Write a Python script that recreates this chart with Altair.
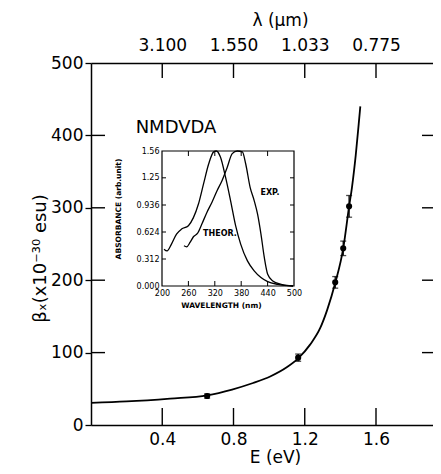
import altair as alt
import pandas as pd

FONT = "DejaVu Sans"

# ---------------- main data ----------------
E_curve = [0.0, 0.2, 0.444, 0.652, 0.792, 0.910, 1.006, 1.101, 1.163, 1.230, 1.287,
           1.326, 1.371, 1.416, 1.449, 1.465, 1.486, 1.503, 1.512]
beta_curve = [30.5, 32.5, 36.5, 41, 49, 58, 67, 80, 92, 111, 134,
              159, 196, 244, 302, 328, 372, 416, 440]

E_pts = [0.652, 1.163, 1.371, 1.416, 1.449]
beta_pts = [40, 93, 197, 244, 302]
beta_err = [3, 5, 8, 10, 15]

x_ticks = [0.4, 0.8, 1.2, 1.6]
x_tick_labels = ["0.4", "0.8", "1.2", "1.6"]
top_tick_labels = ["3.100", "1.550", "1.033", "0.775"]
y_ticks = [0, 100, 200, 300, 400, 500]
y_inner_ticks = [100, 200, 300, 400]

# ---------------- inset data ----------------
theor_nm = [204.6, 211.5, 221.5, 233, 244.5, 260, 271.4, 283, 294.4, 306, 317.4, 323.5,
            332.8, 344.3, 355.8, 367.3, 378.8, 394.2, 409.5, 424.9, 440.2, 463.2, 497.8]
theor_abs = [0.426, 0.406, 0.484, 0.60, 0.658, 0.697, 0.79, 0.95, 1.18, 1.41, 1.55, 1.56,
             1.49, 1.26, 0.987, 0.697, 0.484, 0.29, 0.174, 0.097, 0.05, 0.019, 0.0]
exp_nm = [249.9, 256, 263.7, 271.4, 280.6, 290.6, 302, 313.6, 325.1, 336.6, 348.1, 359.6,
          371.1, 382.7, 390.3, 400.3, 409.5, 417.2, 424.9, 432.5, 440.2, 451.7, 470.9, 497.8]
exp_abs = [0.465, 0.453, 0.503, 0.569, 0.608, 0.716, 0.85, 0.968, 1.10, 1.22, 1.37, 1.53,
           1.56, 1.55, 1.41, 1.14, 0.987, 0.83, 0.60, 0.33, 0.135, 0.058, 0.019, 0.0]

inset_x_domain = [200, 500]
inset_y_domain = [0, 1.56]
inset_x_ticks = [200, 260, 320, 380, 440, 500]
inset_x_inner = [260, 320, 380, 440]
inset_y_ticks = [0, 0.312, 0.624, 0.936, 1.25, 1.56]
inset_y_labels = ["0.000", "0.312", "0.624", "0.936", "1.25", "1.56"]
inset_y_inner = [0.312, 0.624, 0.936, 1.25]

inset_label_text = ["EXP.", "THEOR."]
inset_label_nm = [445.5, 331.8]
inset_label_abs = [1.075, 0.601]
inset_title = ["NMDVDA"]
inset_title_nm = [231.8]
inset_title_abs = [1.826]

# ---------------- layout ----------------
W, H = 342, 362
XMAX = 1.92
IX0, IX1 = 71, 203      # inset horizontal pixel range within plot
IY0, IY1 = 223, 88      # inset vertical pixel range (bottom, top)

xs = alt.Scale(domain=[0, XMAX], nice=False, zero=False)
ys = alt.Scale(domain=[0, 500], nice=False)
ixs = alt.Scale(domain=inset_x_domain, range=[IX0, IX1], nice=False, zero=False)
iys = alt.Scale(domain=inset_y_domain, range=[IY0, IY1], nice=False, zero=False)

curve_df = pd.DataFrame({"E": E_curve, "beta": beta_curve})
pts_df = pd.DataFrame({
    "E": E_pts, "beta": beta_pts,
    "lo": [b - e for b, e in zip(beta_pts, beta_err)],
    "hi": [b + e for b, e in zip(beta_pts, beta_err)],
})
caps_df = pd.DataFrame({
    "E": E_pts + E_pts,
    "beta": [b - e for b, e in zip(beta_pts, beta_err)] + [b + e for b, e in zip(beta_pts, beta_err)],
})
xt_df = pd.DataFrame({"E": x_ticks})
yt_df = pd.DataFrame({"beta": y_inner_ticks})

top_expr = " : ".join(f"datum.label == '{a}' ? '{b}'" for a, b in zip(x_tick_labels, top_tick_labels)) + " : ''"
iy_expr = " : ".join(f"datum.value == {v} ? '{l}'" for v, l in zip(inset_y_ticks, inset_y_labels)) + " : ''"

black = "black"

curve = alt.Chart(curve_df).mark_line(color=black, strokeWidth=1.8, interpolate="monotone").encode(
    x=alt.X("E:Q", scale=xs, axis=alt.Axis(
        values=x_ticks, format=".1f", ticks=False, tickSize=0, labelPadding=6,
        labelFontSize=17, labelFlush=False, labelOverlap=False, labelColor=black,
        domainColor=black, domainWidth=1.5, grid=False,
        title="E (eV)", titleFontSize=17, titleFontWeight="normal", titleColor=black,
        titleX=184, titleY=32, titleBaseline="middle")),
    y=alt.Y("beta:Q", scale=ys, axis=alt.Axis(
        values=y_ticks, format="d", tickSize=6, tickColor=black, tickWidth=1.3,
        labelPadding=2, labelFontSize=17, labelOverlap=False, labelColor=black,
        domainColor=black, domainWidth=1.5, grid=False,
        title="βₓ(x10⁻³⁰ esu)", titleFontSize=18, titleFontWeight="normal", titleColor=black,
        titleX=-51, titleY=195, titleAngle=-90, titleBaseline="middle")),
)

top_axis = alt.Chart(xt_df).mark_point(opacity=0).encode(
    x=alt.X("E:Q", scale=xs, axis=alt.Axis(
        orient="top", values=x_ticks, format=".1f", labelExpr=top_expr, ticks=False, tickSize=0,
        labelPadding=9, labelFontSize=17, labelFlush=False, labelOverlap=False, labelColor=black,
        domainColor=black, domainWidth=1.5, grid=False,
        title="λ (μm)", titleFontSize=17, titleFontWeight="normal", titleColor=black,
        titleX=189, titleY=-43, titleBaseline="middle")),
)

bottom_ticks = alt.Chart(xt_df).mark_rule(color=black, strokeWidth=1.4).encode(
    x=alt.X("E:Q", scale=xs, axis=None), y=alt.value(H), y2=alt.value(H - 17))
top_ticks = alt.Chart(xt_df).mark_rule(color=black, strokeWidth=1.4).encode(
    x=alt.X("E:Q", scale=xs, axis=None), y=alt.value(0), y2=alt.value(15))
left_ticks = alt.Chart(yt_df).mark_rule(color=black, strokeWidth=1.4).encode(
    y=alt.Y("beta:Q", scale=ys, axis=None), x=alt.value(0), x2=alt.value(14))
right_ticks = alt.Chart(yt_df).mark_rule(color=black, strokeWidth=1.4).encode(
    y=alt.Y("beta:Q", scale=ys, axis=None), x=alt.value(W), x2=alt.value(W - 11))

errs = alt.Chart(pts_df).mark_rule(color=black, strokeWidth=1.3).encode(
    x=alt.X("E:Q", scale=xs, axis=None),
    y=alt.Y("lo:Q", scale=ys, axis=None), y2="hi:Q")
caps = alt.Chart(caps_df).mark_tick(color=black, orient="horizontal", size=6, thickness=1.3).encode(
    x=alt.X("E:Q", scale=xs, axis=None), y=alt.Y("beta:Q", scale=ys, axis=None))
points = alt.Chart(pts_df).mark_circle(color=black, opacity=1, size=38).encode(
    x=alt.X("E:Q", scale=xs, axis=None), y=alt.Y("beta:Q", scale=ys, axis=None))

# ---------------- inset ----------------
inset_df = pd.concat([
    pd.DataFrame({"nm": theor_nm, "A": theor_abs, "s": "THEOR"}),
    pd.DataFrame({"nm": exp_nm, "A": exp_abs, "s": "EXP"}),
])
inset_lines = alt.Chart(inset_df).mark_line(color=black, strokeWidth=1.3, interpolate="monotone").encode(
    x=alt.X("nm:Q", scale=ixs, axis=alt.Axis(
        orient="bottom", offset=-(H - IY0), values=inset_x_ticks, format="d", domain=False,
        ticks=False, tickSize=0, labelPadding=3, labelFontSize=8, labelFlush=False,
        labelOverlap=False, labelColor=black, grid=False,
        title="WAVELENGTH  (nm)", titleFontSize=7.5, titleFontWeight="bold", titleColor=black,
        titleX=130, titleY=19, titleBaseline="middle")),
    y=alt.Y("A:Q", scale=iys, axis=alt.Axis(
        orient="left", offset=-IX0, values=inset_y_ticks, labelExpr=iy_expr, domain=False,
        ticks=False, tickSize=0, labelPadding=3, labelFontSize=8, labelFlush=False,
        labelOverlap=False, labelColor=black, grid=False,
        title="ABSORBANCE (arb.unit)", titleFontSize=7.5, titleFontWeight="bold", titleColor=black,
        titleX=-44, titleY=(IY0 + IY1) / 2 - 10, titleAngle=-90, titleBaseline="middle")),
    detail="s:N",
)

frame_df = pd.DataFrame({"x0": [inset_x_domain[0]], "x1": [inset_x_domain[1]],
                         "y0": [inset_y_domain[0]], "y1": [inset_y_domain[1]]})
inset_frame = alt.Chart(frame_df).mark_rect(fill=None, stroke=black, strokeWidth=1.2).encode(
    x=alt.X("x0:Q", scale=ixs, axis=None), x2="x1:Q",
    y=alt.Y("y0:Q", scale=iys, axis=None), y2="y1:Q")

ixt_df = pd.DataFrame({"nm": inset_x_inner})
iyt_df = pd.DataFrame({"A": inset_y_inner})
i_bottom = alt.Chart(ixt_df).mark_rule(color=black, strokeWidth=1).encode(
    x=alt.X("nm:Q", scale=ixs, axis=None), y=alt.value(IY0), y2=alt.value(IY0 - 5))
i_top = alt.Chart(ixt_df).mark_rule(color=black, strokeWidth=1).encode(
    x=alt.X("nm:Q", scale=ixs, axis=None), y=alt.value(IY1), y2=alt.value(IY1 + 5))
i_left = alt.Chart(iyt_df).mark_rule(color=black, strokeWidth=1).encode(
    y=alt.Y("A:Q", scale=iys, axis=None), x=alt.value(IX0), x2=alt.value(IX0 + 4))
i_right = alt.Chart(iyt_df).mark_rule(color=black, strokeWidth=1).encode(
    y=alt.Y("A:Q", scale=iys, axis=None), x=alt.value(IX1), x2=alt.value(IX1 - 4))

lab_df = pd.DataFrame({"nm": inset_label_nm, "A": inset_label_abs, "t": inset_label_text})
inset_labels = alt.Chart(lab_df).mark_text(fontSize=8, fontWeight="bold", color=black,
                                           align="center", baseline="middle").encode(
    x=alt.X("nm:Q", scale=ixs, axis=None), y=alt.Y("A:Q", scale=iys, axis=None), text="t:N")

ttl_df = pd.DataFrame({"nm": inset_title_nm, "A": inset_title_abs, "t": inset_title})
inset_name = alt.Chart(ttl_df).mark_text(fontSize=18, color=black, align="center",
                                         baseline="middle").encode(
    x=alt.X("nm:Q", scale=ixs, axis=None), y=alt.Y("A:Q", scale=iys, axis=None), text="t:N")

chart = alt.layer(
    curve, top_axis, bottom_ticks, top_ticks, left_ticks, right_ticks,
    errs, caps, points,
    inset_frame, inset_lines, i_bottom, i_top, i_left, i_right, inset_labels, inset_name,
).resolve_scale(x="independent", y="independent").resolve_axis(
    x="independent", y="independent"
).properties(
    width=W, height=H,
    autosize=alt.AutoSizeParams(type="none"),
    padding={"left": 83, "top": 55, "right": 0, "bottom": 40},
).configure(font=FONT).configure_view(stroke=None)

chart.save("out.html", embed_options={"renderer": "svg", "actions": False})
